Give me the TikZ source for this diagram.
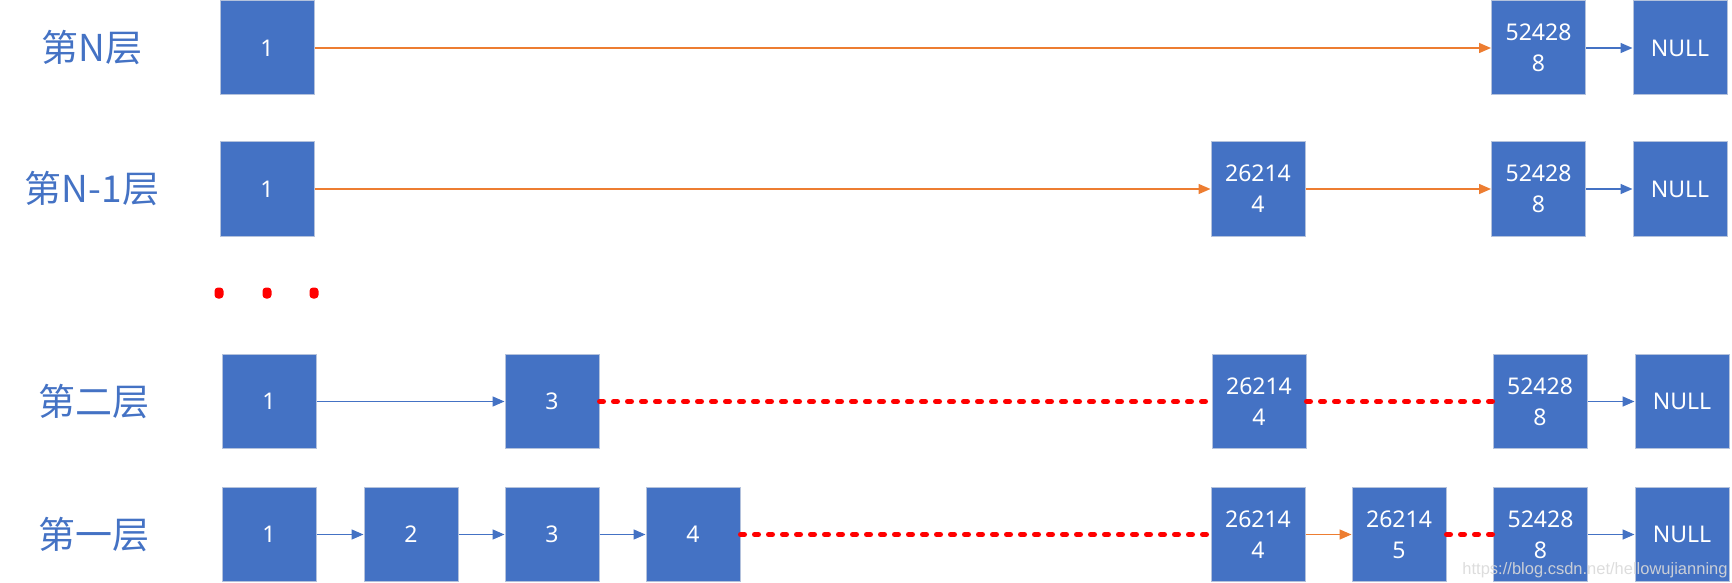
\documentclass[tikz,border=0pt]{standalone}
\usepackage{fontspec}
\setmainfont{Noto Sans}
\newfontfamily\cjk{Noto Sans CJK SC}
\newfontfamily\wmfont{Liberation Sans}
\usetikzlibrary{arrows.meta}
\definecolor{boxblue}{HTML}{4472C4}
\definecolor{boxedge}{HTML}{B4C2DC}
\definecolor{orangeline}{HTML}{ED7D31}
\definecolor{dotred}{HTML}{FF0000}
\begin{document}
\begin{tikzpicture}[x=1pt,y=-1pt,
  nodebox/.style={minimum width=94pt,minimum height=94pt,inner sep=0pt,fill=boxblue,draw=boxedge,line width=1pt,text=white,font=\fontsize{23}{31}\selectfont,align=center},
  layerlabel/.style={text=boxblue,font=\cjk\fontsize{37}{42}\selectfont,inner sep=0pt},
  bluearrow/.style={draw=boxblue,line width=1.5pt,-{Triangle[length=12pt,width=10pt]}},
  orangearrow/.style={draw=orangeline,line width=1.5pt,-{Triangle[length=12pt,width=10pt]}},
  reddots/.style={draw=dotred,line width=5pt,line cap=round,dash pattern=on 4pt off 10pt},
  bigdot/.style={fill=dotred,minimum width=9pt,minimum height=11pt,inner sep=0pt,rounded corners=3.5pt}
]
\useasboundingbox (0,0) rectangle (1732,583);
% labels
\node[layerlabel] (lN) at (92,48) {第N层};
\node[layerlabel] (lN1) at (92,189) {第N-1层};
\node[layerlabel] (l2) at (94,401.5) {第二层};
\node[layerlabel] (l1) at (94,534.5) {第一层};
% row N
\node[nodebox] (a1) at (267,48) {1};
\node[nodebox] (a2) at (1538.5,48) {52428\\8};
\node[nodebox] (a3) at (1680,48) {NULL};
\draw[orangearrow] (a1) -- (a2);
\draw[bluearrow] (a2) -- (a3);
% row N-1
\node[nodebox] (b1) at (267,189) {1};
\node[nodebox] (b2) at (1258,189) {26214\\4};
\node[nodebox] (b3) at (1538.5,189) {52428\\8};
\node[nodebox] (b4) at (1680,189) {NULL};
\draw[orangearrow] (b1) -- (b2);
\draw[orangearrow] (b2) -- (b3);
\draw[bluearrow] (b3) -- (b4);
% dots
\node[bigdot] (d1) at (219,293) {};
\node[bigdot] (d2) at (267,293) {};
\node[bigdot] (d3) at (314,293) {};
% row 2
\node[nodebox] (c1) at (269,401.5) {1};
\node[nodebox] (c2) at (552,401.5) {3};
\node[nodebox] (c3) at (1259,401.5) {26214\\4};
\node[nodebox] (c4) at (1540,401.5) {52428\\8};
\node[nodebox] (c5) at (1682,401.5) {NULL};
\draw[bluearrow] (c1) -- (c2);
\draw[reddots] (c2.east) -- (c3.west);
\draw[reddots] (c3.east) -- (c4.west);
\draw[bluearrow] (c4) -- (c5);
% row 1
\node[nodebox] (e1) at (269,534.5) {1};
\node[nodebox] (e2) at (411,534.5) {2};
\node[nodebox] (e3) at (552,534.5) {3};
\node[nodebox] (e4) at (693,534.5) {4};
\node[nodebox] (e5) at (1258,534.5) {26214\\4};
\node[nodebox] (e6) at (1399,534.5) {26214\\5};
\node[nodebox] (e7) at (1540.5,534.5) {52428\\8};
\node[nodebox] (e8) at (1682,534.5) {NULL};
\draw[bluearrow] (e1) -- (e2);
\draw[bluearrow] (e2) -- (e3);
\draw[bluearrow] (e3) -- (e4);
\draw[reddots] (e4.east) -- (e5.west);
\draw[orangearrow] (e5) -- (e6);
\draw[reddots] (e6.east) -- (e7.west);
\draw[bluearrow] (e7) -- (e8);
% watermark
\node[text=gray!30,font=\wmfont\fontsize{16.5}{20}\selectfont,inner sep=0pt,opacity=0.9] (wm) at (1595,570) {https://blog.csdn.net/hellowujianning};
\end{tikzpicture}
\end{document}
